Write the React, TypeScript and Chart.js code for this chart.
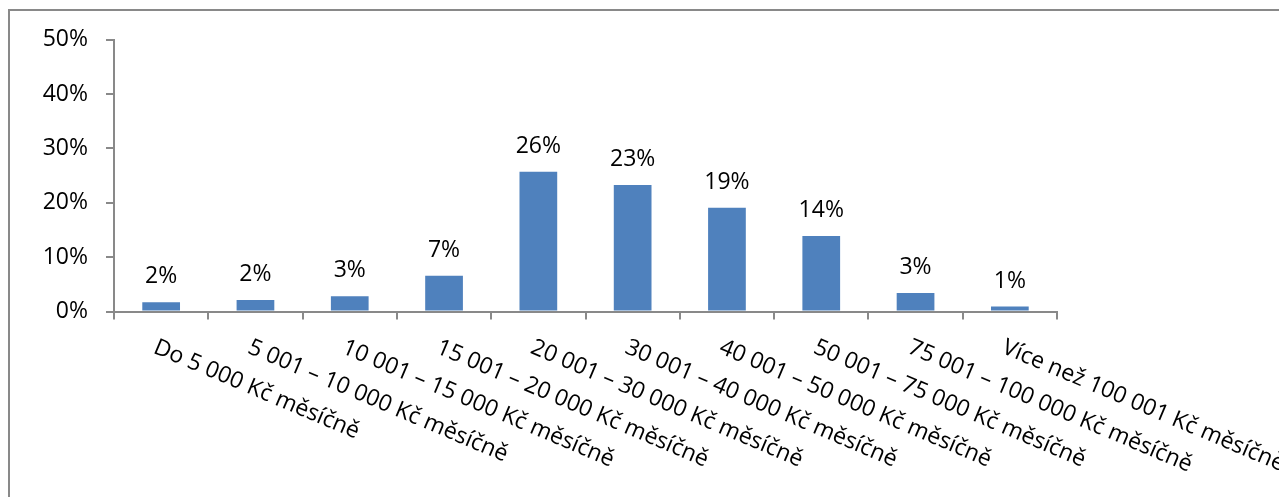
import React, { useEffect, useRef } from "react";
import { Chart, registerables } from "chart.js";

Chart.register(...registerables);

const categories = [
  "Do 5 000 Kč měsíčně",
  "5 001 – 10 000 Kč měsíčně",
  "10 001 – 15 000 Kč měsíčně",
  "15 001 – 20 000 Kč měsíčně",
  "20 001 – 30 000 Kč měsíčně",
  "30 001 – 40 000 Kč měsíčně",
  "40 001 – 50 000 Kč měsíčně",
  "50 001 – 75 000 Kč měsíčně",
  "75 001 – 100 000 Kč měsíčně",
  "Více než 100 001 Kč měsíčně",
];
const shares = [1.7, 2.1, 2.8, 6.6, 25.7, 23.3, 19.1, 13.9, 3.4, 0.9];
const shareLabels = ["2%", "2%", "3%", "7%", "26%", "23%", "19%", "14%", "3%", "1%"];
const yMin = 0;
const yMax = 50;
const yStep = 10;

const FONT_FAMILY = "'Open Sans', 'DejaVu Sans', sans-serif";
const FONT_SIZE = 23;
const GRAY = "#898989";
const BAR_COLOR = "#4F81BD";
const W = 1279;
const H = 489;

const customPlugin = {
  id: "customDraw",
  beforeDraw(chart: any) {
    const ctx = chart.ctx;
    ctx.save();
    ctx.strokeStyle = GRAY;
    ctx.lineWidth = 2;
    ctx.beginPath();
    ctx.moveTo(1, H);
    ctx.lineTo(1, 2);
    ctx.lineTo(W, 2);
    ctx.stroke();
    ctx.restore();
  },
  afterDatasetsDraw(chart: any) {
    const ctx = chart.ctx;
    const meta = chart.getDatasetMeta(0);
    ctx.save();
    ctx.font = `${FONT_SIZE}px ${FONT_FAMILY}`;
    ctx.fillStyle = "#000000";
    ctx.textAlign = "center";
    ctx.textBaseline = "alphabetic";
    meta.data.forEach((bar: any, i: number) => {
      ctx.fillText(shareLabels[i], bar.x, bar.y - 19);
    });
    const xs = chart.scales.x;
    const axisY = chart.chartArea.bottom;
    ctx.textAlign = "left";
    const ang = (23 * Math.PI) / 180;
    categories.forEach((c, i) => {
      const x = xs.getPixelForValue(i);
      ctx.save();
      ctx.translate(x - 9, axisY + 41);
      ctx.rotate(ang);
      ctx.fillText(c, 0, 0);
      ctx.restore();
    });
    ctx.restore();
  },
};

export default function App() {
  const ref = useRef<HTMLCanvasElement>(null);
  useEffect(() => {
    if (!ref.current) return;
    const chart = new Chart(ref.current, {
      type: "bar",
      data: {
        labels: categories,
        datasets: [
          {
            data: shares,
            backgroundColor: BAR_COLOR,
            borderWidth: 0,
            barPercentage: 0.4,
            categoryPercentage: 1,
          },
        ],
      },
      options: {
        animation: false,
        responsive: true,
        maintainAspectRatio: false,
        layout: { padding: { left: 0, top: 27, right: 230, bottom: 177.5 } },
        plugins: {
          legend: { display: false },
          title: { display: false },
          tooltip: { enabled: false },
        },
        scales: {
          x: {
            grid: {
              display: true,
              drawOnChartArea: false,
              drawTicks: true,
              tickLength: 8,
              color: GRAY,
              lineWidth: 2,
              offset: true,
            },
            border: { display: true, color: GRAY, width: 2 },
            ticks: { display: false },
          },
          y: {
            min: yMin,
            max: yMax,
            afterFit: (s: any) => {
              s.width = 106;
            },
            grid: {
              display: true,
              drawOnChartArea: false,
              drawTicks: true,
              tickLength: 8,
              color: GRAY,
              lineWidth: 2,
            },
            border: { display: true, color: GRAY, width: 2 },
            ticks: {
              stepSize: yStep,
              padding: 18,
              color: "#000000",
              font: { family: FONT_FAMILY, size: FONT_SIZE },
              callback: (v: any) => `${v}%`,
            },
          },
        },
      },
      plugins: [customPlugin],
    });
    return () => chart.destroy();
  }, []);
  return (
    <div style={{ width: W, height: H, position: "relative" }}>
      <canvas ref={ref} style={{ display: "block" }} />
    </div>
  );
}
